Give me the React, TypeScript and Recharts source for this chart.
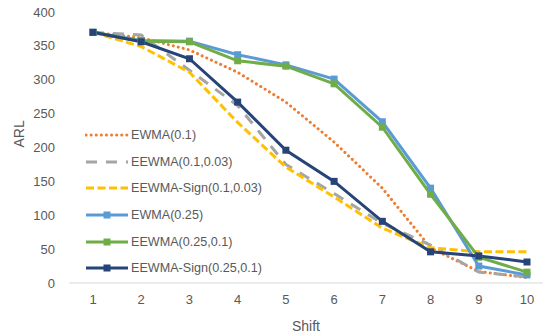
import { LineChart, Line, XAxis, YAxis } from "recharts";

const shifts = [1, 2, 3, 4, 5, 6, 7, 8, 9, 10];
const ewma01 = [370, 362, 344, 311, 267, 208, 140, 52, 17, 8];
const eewma01 = [370, 366, 314, 262, 175, 132, 88, 56, 16, 9];
const eewmaSign01 = [370, 349, 311, 237, 171, 127, 81, 52, 46, 46];
const ewma025 = [370, 358, 357, 337, 322, 301, 238, 140, 25, 12];
const eewma025 = [370, 357, 356, 328, 320, 294, 230, 131, 38, 16];
const eewmaSign025 = [370, 356, 331, 267, 196, 150, 91, 46, 40, 31];
const yTicks = [0, 50, 100, 150, 200, 250, 300, 350, 400];

const data = shifts.map((s, i) => ({
  shift: s,
  ewma01: ewma01[i],
  eewma01: eewma01[i],
  eewmaSign01: eewmaSign01[i],
  ewma025: ewma025[i],
  eewma025: eewma025[i],
  eewmaSign025: eewmaSign025[i],
}));

const series = [
  { key: "ewma01", name: "EWMA(0.1)", color: "#ED7D31", dash: "0.1 5", cap: "round", marker: false },
  { key: "eewma01", name: "EEWMA(0.1,0.03)", color: "#A5A5A5", dash: "11 9", cap: "butt", marker: false },
  { key: "eewmaSign01", name: "EEWMA-Sign(0.1,0.03)", color: "#FFC000", dash: "8 3.5", cap: "butt", marker: false },
  { key: "ewma025", name: "EWMA(0.25)", color: "#5B9BD5", dash: undefined, cap: "butt", marker: true },
  { key: "eewma025", name: "EEWMA(0.25,0.1)", color: "#70AD47", dash: undefined, cap: "butt", marker: true },
  { key: "eewmaSign025", name: "EEWMA-Sign(0.25,0.1)", color: "#264478", dash: undefined, cap: "butt", marker: true },
];

const FONT = "'Liberation Sans', Arial, sans-serif";
const TEXT = "#595959";

const SquareDot = (props: any) => {
  const { cx, cy, stroke } = props;
  if (cx == null || cy == null) return null;
  return <rect x={cx - 3.5} y={cy - 3.5} width={7} height={7} fill={stroke} />;
};

// legend sits inside the plot area, like the Excel original
const LegendBox = () => (
  <div style={{ position: "absolute", left: 85, top: 122, fontFamily: FONT, fontSize: 12.6, color: TEXT }}>
    {series.map((s) => (
      <div key={s.key} style={{ display: "flex", alignItems: "center", height: 26.6 }}>
        <svg width={44} height={10} style={{ marginRight: 2 }}>
          <line
            x1={1}
            y1={5}
            x2={43}
            y2={5}
            stroke={s.color}
            strokeWidth={3}
            strokeDasharray={s.dash}
            strokeLinecap={s.cap as any}
          />
          {s.marker && <rect x={18.5} y={1.5} width={7} height={7} fill={s.color} />}
        </svg>
        <span>{s.name}</span>
      </div>
    ))}
  </div>
);

export default function App() {
  return (
    <div style={{ position: "absolute", left: 0, top: 0, width: 543, height: 333 }}>
      <LineChart width={543} height={333} data={data} margin={{ top: 12, right: 0, left: 0, bottom: 0 }}>
        <XAxis
          dataKey="shift"
          padding={{ left: 24, right: 16 }}
          tickLine={false}
          tickMargin={6}
          stroke="#D9D9D9"
          tick={{ fill: TEXT, fontSize: 13, fontFamily: FONT }}
          height={50}
          label={{ value: "Shift", position: "insideBottom", offset: 2, fill: TEXT, fontSize: 14, fontFamily: FONT }}
        />
        <YAxis
          width={69}
          domain={[0, 400]}
          ticks={yTicks}
          axisLine={false}
          tickLine={false}
          tickMargin={8}
          tick={{ fill: TEXT, fontSize: 13, fontFamily: FONT }}
          label={{ value: "ARL", angle: -90, position: "insideLeft", offset: 19, fill: TEXT, fontSize: 14, fontFamily: FONT }}
        />
        {series.map((s) => (
          <Line
            key={s.key}
            type="linear"
            dataKey={s.key}
            name={s.name}
            stroke={s.color}
            strokeWidth={3}
            strokeDasharray={s.dash}
            strokeLinecap={s.cap as any}
            dot={s.marker ? <SquareDot /> : false}
            activeDot={false}
            isAnimationActive={false}
          />
        ))}
      </LineChart>
      <LegendBox />
    </div>
  );
}
